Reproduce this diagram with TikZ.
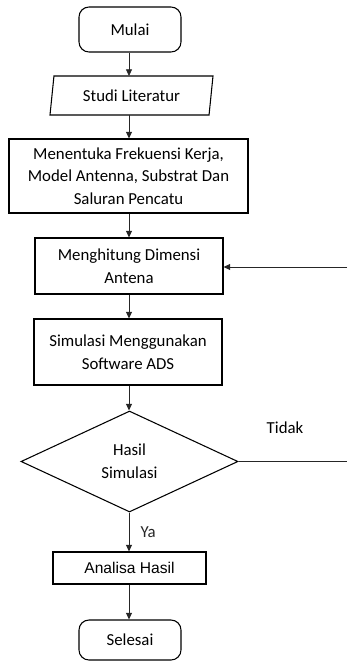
\documentclass[tikz,border=0pt]{standalone}
\usepackage{fontspec}
\setmainfont{Carlito}
\newfontfamily\arialfont{Liberation Sans}
\usetikzlibrary{shapes,arrows,positioning,calc,arrows.meta}

\begin{document}
\begin{tikzpicture}[x=0.75pt,y=-0.75pt,
    box/.style={draw,line width=0.8pt,align=center,inner sep=2pt,font=\fontsize{12.6}{17}\selectfont},
    terminal/.style={box,rounded corners=7.5pt},
    io/.style={box,trapezium,trapezium left angle=77,trapezium right angle=103,trapezium stretches body},
    decision/.style={box,diamond,inner sep=0pt},
    arr/.style={-{Triangle[length=5pt,width=4.5pt]},line width=0.6pt,black!85}]
    \useasboundingbox (0,0) rectangle (347,661);

    % flowchart design antena
    \node[terminal,minimum width=76.5pt,minimum height=33.75pt] (mulai) at (130,29.5) {Mulai};
    \node[io,minimum width=122.25pt,minimum height=29.25pt] (studi) at (131.5,95.5) {Studi Literatur};
    \node[box,minimum width=179.25pt,minimum height=55.5pt] (tentukan) at (128.5,176) {Menentuka Frekuensi Kerja,\\Model Antenna, Substrat Dan\\Saluran Pencatu};
    \node[box,minimum width=141pt,minimum height=42pt] (hitung) at (129,266) {Menghitung Dimensi\\Antena};
    \node[box,minimum width=141pt,minimum height=49.5pt] (simulasi) at (128,352) {Simulasi Menggunakan\\Software ADS};
    \node[decision,minimum width=162.75pt,minimum height=75.75pt] (hasil) at (129.5,461.5) {Hasil\\Simulasi};
    \node[box,minimum width=114.75pt,minimum height=24pt,font=\arialfont\fontsize{11.7}{14}\selectfont] (analisa) at (129.5,568) {Analisa Hasil};
    \node[terminal,minimum width=76.5pt,minimum height=30pt] (selesai) at (130,640) {Selesai};

    \coordinate (kanan1) at (347,267);
    \coordinate (kanan2) at (347,461.5);

    \draw[arr] (mulai.south -| 129,0) -- (129,76);
    \draw[arr] (129,115) -- (tentukan.north -| 129,0);
    \draw[arr] (tentukan.south -| 129,0) -- (hitung.north -| 129,0);
    \draw[arr] (hitung.south -| 129,0) -- (simulasi.north -| 129,0);
    \draw[arr] (simulasi.south -| 129,0) -- (hasil.north -| 129,0);
    \draw[arr] (hasil.south -| 129,0) -- node[right,xshift=5pt,font=\fontsize{12.6}{14}\selectfont] (ya) {Ya} (analisa.north -| 129,0);
    \draw[arr] (analisa.south -| 129,0) -- (selesai.north -| 129,0);
    \draw[arr] (kanan1) -- (kanan1 -| hitung.east);
    \draw[line width=0.6pt,black!85] (hasil.east) -- (kanan2);
    \node[font=\fontsize{12.6}{14}\selectfont] (tidak) at (285,428) {Tidak};
\end{tikzpicture}
\end{document}
